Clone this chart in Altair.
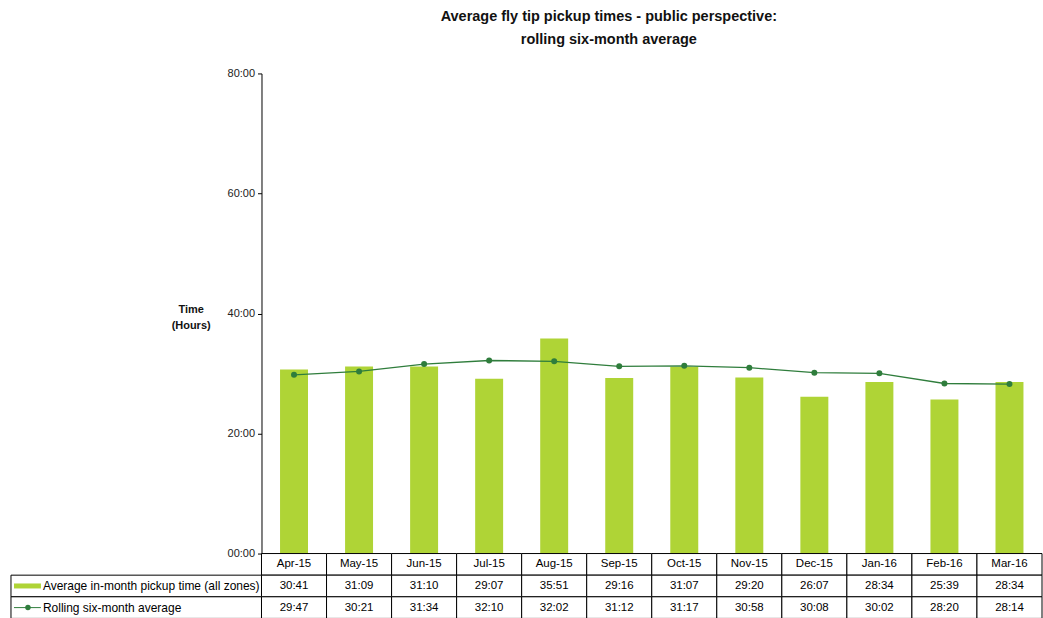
import altair as alt
import pandas as pd

months = ["Apr-15", "May-15", "Jun-15", "Jul-15", "Aug-15", "Sep-15",
          "Oct-15", "Nov-15", "Dec-15", "Jan-16", "Feb-16", "Mar-16"]
avg_pickup = ["30:41", "31:09", "31:10", "29:07", "35:51", "29:16",
              "31:07", "29:20", "26:07", "28:34", "25:39", "28:34"]
rolling_avg = ["29:47", "30:21", "31:34", "32:10", "32:02", "31:12",
               "31:17", "30:58", "30:08", "30:02", "28:20", "28:14"]
y_ticks = [0, 20, 40, 60, 80]
series_names = ["Average in-month pickup time (all zones)", "Rolling six-month average"]
rows = ["header", "avg", "roll"]

BAR = "#afd436"
LINE = "#2f7d3c"
FONT = "Liberation Sans"


def to_hours(s):
    h, m = s.split(":")
    return int(h) + int(m) / 60.0


df = pd.DataFrame({
    "month": months,
    "avg_h": [to_hours(v) for v in avg_pickup],
    "roll_h": [to_hours(v) for v in rolling_avg],
})

table = pd.DataFrame(
    [{"month": m, "row": "header", "label": m} for m in months]
    + [{"month": m, "row": "avg", "label": v} for m, v in zip(months, avg_pickup)]
    + [{"month": m, "row": "roll", "label": v} for m, v in zip(months, rolling_avg)]
)
legend = pd.DataFrame({"row": ["avg", "roll"], "label": series_names})

PLOT_H = 481
TOTAL_H = 546

x_enc = alt.X("month:N", sort=months,
              scale=alt.Scale(domain=months, paddingInner=0, paddingOuter=0),
              axis=None)
y_scale = alt.Scale(domain=[0, 80], range=[PLOT_H, 0], nice=False)
y_axis = alt.Axis(
    values=y_ticks,
    labelExpr="(datum.value < 10 ? '0' : '') + datum.value + ':00'",
    grid=False, tickSize=4, tickColor="#000", domainColor="#000",
    labelFont=FONT, labelFontSize=11, labelColor="#222", labelPadding=3,
    title=["Time", "(Hours)"], titleAngle=0, titleFont=FONT, titleFontSize=11,
    titleFontWeight="bold", titleColor="#111", titleAlign="center",
    titleBaseline="top", titleX=-71, titleY=231, titleLineHeight=16,
)

bars = alt.Chart(df).mark_bar(color=BAR, width=alt.RelativeBandSize(0.43)).encode(
    x=x_enc,
    y=alt.Y("avg_h:Q", scale=y_scale, axis=y_axis),
)
line = alt.Chart(df).mark_line(color=LINE, strokeWidth=1.3).encode(
    x=x_enc, y=alt.Y("roll_h:Q", scale=y_scale)
)
pts = alt.Chart(df).mark_point(filled=True, color=LINE, size=36, opacity=1).encode(
    x=x_enc, y=alt.Y("roll_h:Q", scale=y_scale)
)
main = alt.layer(bars, line, pts)

row_scale = alt.Scale(domain=rows, range=[PLOT_H, TOTAL_H], paddingInner=0, paddingOuter=0)
row_y = alt.Y("row:N", scale=row_scale, axis=None)

cells = alt.Chart(table).mark_rect(fill="white", stroke="#000", strokeWidth=1).encode(
    x=x_enc, y=row_y
)
cell_text = alt.Chart(table).mark_text(font=FONT, fontSize=11.5, color="#000").encode(
    x=x_enc, y=row_y, text="label:N"
)
leg_cells = alt.Chart(legend).mark_rect(fill="white", stroke="#000", strokeWidth=1).encode(
    x=alt.value(-251), x2=alt.value(0), y=row_y
)
leg_text = alt.Chart(legend).mark_text(font=FONT, fontSize=12, color="#000", align="left").encode(
    x=alt.value(-219), y=row_y, text="label:N"
)
leg_bar = alt.Chart(legend[legend.row == "avg"]).mark_rule(color=BAR, strokeWidth=5).encode(
    x=alt.value(-248), x2=alt.value(-221), y=row_y
)
leg_line = alt.Chart(legend[legend.row == "roll"]).mark_rule(color=LINE, strokeWidth=1).encode(
    x=alt.value(-248), x2=alt.value(-221), y=row_y
)
leg_pt = alt.Chart(legend[legend.row == "roll"]).mark_point(filled=True, color=LINE, size=30, opacity=1).encode(
    x=alt.value(-234), y=row_y
)
table_layer = alt.layer(cells, cell_text, leg_cells, leg_text, leg_bar, leg_line, leg_pt)

chart = alt.layer(main, table_layer).resolve_scale(y="independent").properties(
    width=782,
    height=TOTAL_H,
    padding={"left": 10, "top": 8, "right": 0, "bottom": 0},
    title=alt.Title(
        ["Average fly tip pickup times - public perspective:", "rolling six-month average"],
        font=FONT, fontSize=14.5, fontWeight="bold", color="#111",
        lineHeight=23, dx=-43, offset=20, anchor="middle",
    ),
).configure_view(stroke=None)

chart.save("out.html", embed_options={"renderer": "svg", "actions": False})
